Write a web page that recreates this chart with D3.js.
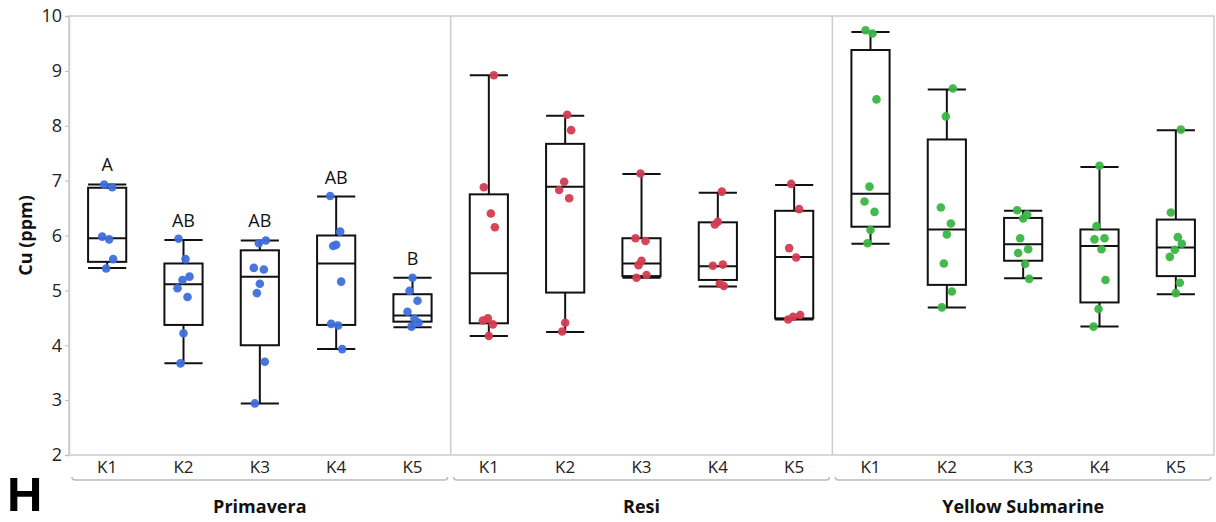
<!DOCTYPE html>
<html>
<head>
<meta charset="utf-8">
<script src="https://cdn.jsdelivr.net/npm/d3@7"></script>
<style>
	body { margin: 0; background: #fff; }
	svg { display: block; font-family: "Open Sans", "Noto Sans", sans-serif; }
</style>
</head>
<body>
<div id="chart"></div>
<script>
/* Cu (ppm) box plots, panel H */

var groups = ["Primavera", "Resi", "Yellow Submarine"];
var categories = ["K1", "K2", "K3", "K4", "K5"];
var yTicks = [2, 3, 4, 5, 6, 7, 8, 9, 10];

// raw points per category
var primaveraPoints = [
	[6.93, 6.88, 5.98, 5.93, 5.57, 5.40],
	[5.94, 5.57, 5.25, 5.19, 5.04, 4.88, 4.22, 3.67],
	[5.91, 5.86, 5.41, 5.38, 5.12, 4.95, 3.70, 2.94],
	[6.72, 6.07, 5.83, 5.81, 5.16, 4.39, 4.36, 3.93],
	[5.23, 4.99, 4.81, 4.61, 4.48, 4.41, 4.34]
];
var resiPoints = [
	[8.92, 6.88, 6.40, 6.15, 4.49, 4.45, 4.38, 4.17],
	[8.20, 7.92, 6.98, 6.83, 6.68, 4.41, 4.25],
	[7.13, 5.95, 5.90, 5.54, 5.46, 5.28, 5.23],
	[6.80, 6.25, 6.20, 5.47, 5.45, 5.12, 5.08],
	[6.94, 6.48, 5.77, 5.60, 4.55, 4.52, 4.47]
];
var yellowPoints = [
	[9.74, 9.68, 8.48, 6.89, 6.62, 6.43, 6.10, 5.86],
	[8.68, 8.17, 6.51, 6.22, 6.02, 5.49, 4.98, 4.69],
	[6.46, 6.38, 6.31, 5.95, 5.75, 5.68, 5.48, 5.21],
	[7.27, 6.17, 5.95, 5.93, 5.75, 5.19, 4.66, 4.34],
	[7.93, 6.42, 5.97, 5.85, 5.74, 5.61, 5.14, 4.95]
];

// box stats: [whisker low, Q1, median, Q3, whisker high]
var primaveraBox = [
	[5.41, 5.52, 5.95, 6.87, 6.93],
	[3.67, 4.37, 5.11, 5.49, 5.92],
	[2.94, 4.00, 5.25, 5.73, 5.91],
	[3.93, 4.37, 5.49, 6.00, 6.71],
	[4.33, 4.43, 4.54, 4.93, 5.23]
];
var resiBox = [
	[4.17, 4.40, 5.31, 6.75, 8.92],
	[4.24, 4.96, 6.89, 7.67, 8.18],
	[5.23, 5.26, 5.49, 5.95, 7.12],
	[5.07, 5.19, 5.44, 6.24, 6.78],
	[4.47, 4.49, 5.61, 6.45, 6.92]
];
var yellowBox = [
	[5.85, 6.16, 6.76, 9.38, 9.71],
	[4.69, 5.10, 6.11, 7.75, 8.66],
	[5.22, 5.54, 5.84, 6.32, 6.45],
	[4.34, 4.78, 5.81, 6.11, 7.25],
	[4.93, 5.26, 5.78, 6.29, 7.92]
];

var primaveraLetters = ["A", "AB", "AB", "AB", "B"];

var allPoints = [primaveraPoints, resiPoints, yellowPoints];
var allBoxes = [primaveraBox, resiBox, yellowBox];
var letters = [primaveraLetters, null, null];
var colors = ["#3f6fdc", "#d43c52", "#3cb545"];

var W = 1216, H = 522;
var mLeft = 69, mRight = 1214, mTop = 16, mBottom = 455;
var jitter = [-3, 5, -5, 2, 6, -1, -6, 4, 0];

var svg = d3.select("#chart").append("svg")
	.attr("width", W)
	.attr("height", H);

var y = d3.scaleLinear().domain([2, 10]).range([mBottom, mTop]);
var xOuter = d3.scaleBand().domain(groups).range([mLeft, mRight]).padding(0);
var xInner = d3.scaleBand().domain(categories).range([0, xOuter.bandwidth()]).padding(0);
var boxW = xInner.bandwidth() * 0.5;

/* frame */
svg.append("rect")
	.attr("x", mLeft).attr("y", mTop)
	.attr("width", mRight - mLeft).attr("height", mBottom - mTop)
	.attr("fill", "none").attr("stroke", "#cccccc").attr("stroke-width", 1.5);

svg.selectAll("line.divider")
	.data(groups.slice(1))
	.enter().append("line")
	.attr("class", "divider")
	.attr("x1", function(d) { return xOuter(d); })
	.attr("x2", function(d) { return xOuter(d); })
	.attr("y1", mTop).attr("y2", mBottom)
	.attr("stroke", "#cccccc").attr("stroke-width", 1.5);

/* y axis */
var yAxis = svg.append("g")
	.attr("transform", "translate(" + mLeft + ",0)")
	.call(d3.axisLeft(y).tickValues(yTicks).tickSize(4).tickPadding(3));
yAxis.select(".domain").attr("stroke", "#cccccc").attr("stroke-width", 1.5);
yAxis.selectAll(".tick line").attr("stroke", "#bbbbbb");
yAxis.selectAll(".tick text")
	.attr("fill", "#222")
	.style("font-family", "'Open Sans', sans-serif")
	.style("font-size", "18px");

svg.append("text")
	.attr("transform", "translate(32," + ((mTop + mBottom) / 2) + ") rotate(-90)")
	.attr("text-anchor", "middle")
	.style("font-size", "18px")
	.style("font-weight", "bold")
	.attr("fill", "#111")
	.text("Cu (ppm)");

/* panels */
groups.forEach(function(g, gi) {
	var gx = xOuter(g);
	var panel = svg.append("g").attr("transform", "translate(" + gx + ",0)");
	var color = colors[gi];

	categories.forEach(function(c, ci) {
		var cx = xInner(c) + xInner.bandwidth() / 2;
		var b = allBoxes[gi][ci];
		var cell = panel.append("g");

		// whiskers
		cell.append("line")
			.attr("x1", cx).attr("x2", cx)
			.attr("y1", y(b[0])).attr("y2", y(b[1]))
			.attr("stroke", "#111").attr("stroke-width", 2);
		cell.append("line")
			.attr("x1", cx).attr("x2", cx)
			.attr("y1", y(b[3])).attr("y2", y(b[4]))
			.attr("stroke", "#111").attr("stroke-width", 2);
		cell.selectAll("line.cap")
			.data([b[0], b[4]])
			.enter().append("line")
			.attr("class", "cap")
			.attr("x1", cx - boxW / 2).attr("x2", cx + boxW / 2)
			.attr("y1", function(d) { return y(d); })
			.attr("y2", function(d) { return y(d); })
			.attr("stroke", "#111").attr("stroke-width", 2);

		// box
		cell.append("rect")
			.attr("x", cx - boxW / 2)
			.attr("y", y(b[3]))
			.attr("width", boxW)
			.attr("height", y(b[1]) - y(b[3]))
			.attr("fill", "none")
			.attr("stroke", "#111").attr("stroke-width", 2);
		cell.append("line")
			.attr("x1", cx - boxW / 2).attr("x2", cx + boxW / 2)
			.attr("y1", y(b[2])).attr("y2", y(b[2]))
			.attr("stroke", "#111").attr("stroke-width", 2);

		// points
		cell.selectAll("circle")
			.data(allPoints[gi][ci])
			.enter().append("circle")
			.attr("cx", function(d, i) { return cx + jitter[(i + ci * 2 + gi) % jitter.length]; })
			.attr("cy", function(d) { return y(d); })
			.attr("r", 4.3)
			.attr("fill", color)
			.attr("fill-opacity", 0.95);

		// letters
		if (letters[gi]) {
			cell.append("text")
				.attr("x", cx)
				.attr("y", y(b[4]) - 13)
				.attr("text-anchor", "middle")
				.style("font-size", "18px")
				.attr("fill", "#111")
				.text(letters[gi][ci]);
		}

		// category label
		panel.append("text")
			.attr("x", cx)
			.attr("y", 473)
			.attr("text-anchor", "middle")
			.style("font-size", "17px")
			.attr("fill", "#222")
			.text(c);
	});

	// bracket
	var bw = xOuter.bandwidth();
	panel.append("path")
		.attr("d", "M3,477 Q3,480 6,480 L" + (bw - 6) + ",480 Q" + (bw - 3) + ",480 " + (bw - 3) + ",477")
		.attr("fill", "none")
		.attr("stroke", "#bbbbbb").attr("stroke-width", 1.5);

	panel.append("text")
		.attr("x", bw / 2)
		.attr("y", 513)
		.attr("text-anchor", "middle")
		.style("font-size", "18px")
		.style("font-weight", "bold")
		.attr("fill", "#111")
		.text(g);
});

svg.append("text")
	.attr("x", 7)
	.attr("y", 511)
	.style("font-family", "'Liberation Sans', Arial, sans-serif")
	.style("font-size", "49px")
	.style("font-weight", "bold")
	.attr("fill", "#000")
	.text("H");
</script>
</body>
</html>
